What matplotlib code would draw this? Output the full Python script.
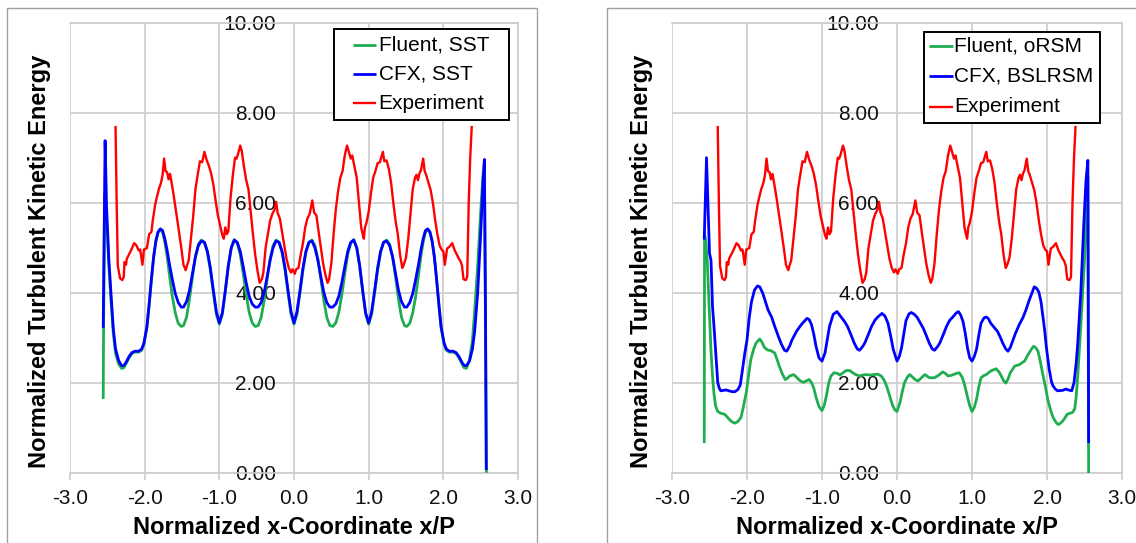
import matplotlib
matplotlib.use("Agg")
import matplotlib.pyplot as plt
from matplotlib.patches import Rectangle

plt.rcParams['font.family'] = ['Liberation Sans', 'DejaVu Sans']

# experiment (same measured profile in both panels)
exp_pts = [
    (-2.39, 7.68), (-2.375, 6.0), (-2.36, 4.6), (-2.33, 4.32), (-2.30, 4.28), (-2.28, 4.35),
    (-2.27, 4.68), (-2.25, 4.62), (-2.24, 4.75), (-2.21, 4.85), (-2.18, 4.95), (-2.14, 5.10),
    (-2.11, 5.05), (-2.08, 4.94), (-2.06, 4.96), (-2.03, 4.62), (-2.01, 4.96), (-1.97, 4.99),
    (-1.94, 5.30), (-1.91, 5.35), (-1.89, 5.62), (-1.86, 5.95), (-1.84, 6.10), (-1.81, 6.30),
    (-1.78, 6.45), (-1.76, 6.62), (-1.74, 6.98), (-1.72, 6.70), (-1.70, 6.68), (-1.68, 6.52),
    (-1.66, 6.64), (-1.64, 6.45), (-1.61, 6.15), (-1.57, 5.70), (-1.54, 5.35), (-1.51, 5.00),
    (-1.48, 4.62), (-1.45, 4.50), (-1.43, 4.62), (-1.41, 4.72), (-1.38, 5.20), (-1.35, 5.70),
    (-1.32, 6.30), (-1.29, 6.62), (-1.26, 6.92), (-1.23, 6.90), (-1.20, 7.13), (-1.17, 6.95),
    (-1.14, 6.82), (-1.11, 6.65), (-1.08, 6.40), (-1.05, 6.05), (-1.02, 5.72), (-0.99, 5.50),
    (-0.96, 5.28), (-0.94, 5.20), (-0.92, 5.45), (-0.90, 5.30), (-0.88, 5.36), (-0.85, 6.10),
    (-0.82, 6.60), (-0.79, 7.00), (-0.77, 6.98), (-0.75, 7.08), (-0.72, 7.27), (-0.70, 7.15),
    (-0.67, 6.80), (-0.64, 6.50), (-0.61, 6.30), (-0.58, 5.80), (-0.55, 5.30), (-0.52, 4.85),
    (-0.49, 4.50), (-0.46, 4.22), (-0.43, 4.30), (-0.41, 4.45), (-0.38, 5.00), (-0.35, 5.30),
    (-0.32, 5.60), (-0.29, 5.75), (-0.26, 5.85), (-0.24, 6.02), (-0.22, 5.78), (-0.19, 5.65),
    (-0.16, 5.35), (-0.13, 5.05), (-0.10, 4.75), (-0.07, 4.55), (-0.04, 4.45), (-0.02, 4.52),
    (0.01, 4.42), (0.03, 4.52), (0.06, 4.55), (0.09, 4.85), (0.12, 5.10), (0.15, 5.45),
    (0.18, 5.65), (0.21, 5.75), (0.245, 6.05), (0.27, 5.78), (0.30, 5.72), (0.33, 5.35),
    (0.36, 5.00), (0.39, 4.65), (0.42, 4.40), (0.45, 4.22), (0.47, 4.30), (0.50, 4.65),
    (0.53, 5.30), (0.56, 5.85), (0.59, 6.25), (0.62, 6.55), (0.65, 6.70), (0.68, 7.05),
    (0.71, 7.27), (0.74, 7.10), (0.76, 6.98), (0.78, 7.05), (0.81, 6.80), (0.84, 6.55),
    (0.87, 6.00), (0.90, 5.45), (0.92, 5.30), (0.935, 5.20), (0.95, 5.45), (0.97, 5.55),
    (1.00, 5.80), (1.03, 6.20), (1.06, 6.55), (1.09, 6.70), (1.12, 6.88), (1.15, 6.90),
    (1.19, 7.13), (1.21, 6.92), (1.24, 6.94), (1.27, 6.75), (1.30, 6.45), (1.33, 6.00),
    (1.36, 5.60), (1.39, 5.30), (1.42, 4.85), (1.45, 4.55), (1.47, 4.62), (1.50, 4.78),
    (1.53, 5.20), (1.56, 5.75), (1.59, 6.30), (1.62, 6.55), (1.64, 6.62), (1.66, 6.50),
    (1.68, 6.65), (1.70, 6.72), (1.73, 6.98), (1.75, 6.70), (1.77, 6.62), (1.80, 6.45),
    (1.83, 6.28), (1.86, 6.00), (1.89, 5.62), (1.92, 5.30), (1.95, 5.05), (1.98, 4.95),
    (2.00, 4.92), (2.02, 4.62), (2.05, 4.98), (2.08, 5.02), (2.12, 5.10), (2.15, 4.95),
    (2.18, 4.85), (2.21, 4.75), (2.23, 4.70), (2.25, 4.60), (2.27, 4.30), (2.30, 4.28),
    (2.32, 4.35), (2.34, 6.00), (2.36, 7.00), (2.38, 7.68),
]

# left panel: SST
cfx_sst_pts = [
    (-2.555, 3.25), (-2.53, 7.38), (-2.51, 5.90), (-2.48, 4.75), (-2.45, 3.95), (-2.42, 3.20),
    (-2.39, 2.75), (-2.35, 2.50), (-2.31, 2.38), (-2.28, 2.38), (-2.25, 2.45), (-2.21, 2.58),
    (-2.17, 2.67), (-2.13, 2.70), (-2.08, 2.70), (-2.04, 2.75), (-2.01, 2.88), (-1.97, 3.25),
    (-1.94, 3.75), (-1.91, 4.30), (-1.88, 4.80), (-1.85, 5.15), (-1.82, 5.35), (-1.79, 5.42),
    (-1.76, 5.38), (-1.73, 5.20), (-1.70, 4.95), (-1.67, 4.65), (-1.63, 4.30), (-1.59, 3.98),
    (-1.55, 3.78), (-1.51, 3.68), (-1.48, 3.68), (-1.44, 3.80), (-1.40, 4.05), (-1.36, 4.42),
    (-1.32, 4.80), (-1.28, 5.05), (-1.24, 5.15), (-1.20, 5.12), (-1.16, 4.92), (-1.12, 4.55),
    (-1.08, 4.05), (-1.04, 3.58), (-1.00, 3.33), (-0.96, 3.55), (-0.92, 4.05), (-0.88, 4.60),
    (-0.84, 5.00), (-0.80, 5.17), (-0.76, 5.12), (-0.72, 4.92), (-0.68, 4.58), (-0.64, 4.22),
    (-0.60, 3.92), (-0.56, 3.75), (-0.52, 3.68), (-0.48, 3.68), (-0.44, 3.78), (-0.40, 4.00),
    (-0.36, 4.35), (-0.32, 4.72), (-0.28, 5.00), (-0.24, 5.15), (-0.20, 5.12), (-0.16, 4.92),
    (-0.12, 4.55), (-0.08, 4.05), (-0.04, 3.58), (0.00, 3.33), (0.04, 3.58), (0.08, 4.05),
    (0.12, 4.55), (0.16, 4.92), (0.20, 5.12), (0.24, 5.15), (0.28, 5.00), (0.32, 4.72),
    (0.36, 4.35), (0.40, 4.00), (0.44, 3.78), (0.48, 3.68), (0.52, 3.68), (0.56, 3.75),
    (0.60, 3.92), (0.64, 4.22), (0.68, 4.58), (0.72, 4.92), (0.76, 5.12), (0.80, 5.17),
    (0.84, 5.00), (0.88, 4.60), (0.92, 4.05), (0.96, 3.55), (1.00, 3.33), (1.04, 3.58),
    (1.08, 4.05), (1.12, 4.55), (1.16, 4.92), (1.20, 5.12), (1.24, 5.15), (1.28, 5.05),
    (1.32, 4.80), (1.36, 4.42), (1.40, 4.05), (1.44, 3.80), (1.48, 3.68), (1.51, 3.68),
    (1.55, 3.78), (1.59, 3.98), (1.63, 4.30), (1.67, 4.65), (1.70, 4.95), (1.73, 5.20),
    (1.76, 5.38), (1.79, 5.42), (1.82, 5.35), (1.85, 5.15), (1.88, 4.80), (1.91, 4.30),
    (1.94, 3.75), (1.97, 3.25), (2.01, 2.88), (2.04, 2.75), (2.08, 2.70), (2.13, 2.70),
    (2.17, 2.67), (2.21, 2.58), (2.25, 2.45), (2.28, 2.38), (2.31, 2.38), (2.35, 2.48),
    (2.39, 2.75), (2.42, 3.15), (2.46, 4.00), (2.50, 5.30), (2.53, 6.40), (2.55, 6.96),
    (2.565, 3.50), (2.575, 0.09),
]

fluent_sst_pts = [
    (-2.555, 1.67), (-2.55, 3.30), (-2.535, 6.20), (-2.51, 5.60), (-2.48, 4.60), (-2.45, 3.80),
    (-2.42, 3.10), (-2.39, 2.65), (-2.35, 2.42), (-2.31, 2.32), (-2.28, 2.33), (-2.25, 2.42),
    (-2.21, 2.55), (-2.17, 2.65), (-2.13, 2.68), (-2.08, 2.68), (-2.04, 2.72), (-2.01, 2.85),
    (-1.97, 3.22), (-1.94, 3.72), (-1.91, 4.28), (-1.88, 4.78), (-1.85, 5.14), (-1.82, 5.35),
    (-1.79, 5.40), (-1.76, 5.34), (-1.73, 5.12), (-1.70, 4.82), (-1.67, 4.42), (-1.63, 3.92),
    (-1.59, 3.55), (-1.55, 3.32), (-1.51, 3.25), (-1.48, 3.27), (-1.44, 3.45), (-1.40, 3.85),
    (-1.36, 4.35), (-1.32, 4.80), (-1.28, 5.08), (-1.24, 5.17), (-1.20, 5.12), (-1.16, 4.90),
    (-1.12, 4.50), (-1.08, 4.00), (-1.04, 3.52), (-1.00, 3.30), (-0.96, 3.52), (-0.92, 4.02),
    (-0.88, 4.58), (-0.84, 5.00), (-0.80, 5.18), (-0.76, 5.10), (-0.72, 4.85), (-0.68, 4.42),
    (-0.64, 3.95), (-0.60, 3.56), (-0.56, 3.33), (-0.52, 3.25), (-0.48, 3.27), (-0.44, 3.45),
    (-0.40, 3.82), (-0.36, 4.30), (-0.32, 4.75), (-0.28, 5.05), (-0.24, 5.17), (-0.20, 5.12),
    (-0.16, 4.90), (-0.12, 4.50), (-0.08, 4.00), (-0.04, 3.52), (0.00, 3.30), (0.04, 3.52),
    (0.08, 4.00), (0.12, 4.50), (0.16, 4.90), (0.20, 5.12), (0.24, 5.17), (0.28, 5.05),
    (0.32, 4.75), (0.36, 4.30), (0.40, 3.82), (0.44, 3.45), (0.48, 3.27), (0.52, 3.25),
    (0.56, 3.33), (0.60, 3.56), (0.64, 3.95), (0.68, 4.42), (0.72, 4.85), (0.76, 5.10),
    (0.80, 5.18), (0.84, 5.00), (0.88, 4.58), (0.92, 4.02), (0.96, 3.52), (1.00, 3.30),
    (1.04, 3.52), (1.08, 4.00), (1.12, 4.50), (1.16, 4.90), (1.20, 5.12), (1.24, 5.17),
    (1.28, 5.08), (1.32, 4.80), (1.36, 4.35), (1.40, 3.85), (1.44, 3.45), (1.48, 3.27),
    (1.51, 3.25), (1.55, 3.32), (1.59, 3.55), (1.63, 3.92), (1.67, 4.42), (1.70, 4.82),
    (1.73, 5.12), (1.76, 5.34), (1.79, 5.40), (1.82, 5.35), (1.85, 5.14), (1.88, 4.78),
    (1.91, 4.28), (1.94, 3.72), (1.97, 3.22), (2.01, 2.85), (2.04, 2.72), (2.08, 2.68),
    (2.13, 2.68), (2.17, 2.65), (2.21, 2.55), (2.25, 2.42), (2.28, 2.33), (2.31, 2.32),
    (2.35, 2.50), (2.39, 2.95), (2.42, 3.60), (2.46, 4.60), (2.50, 5.80), (2.53, 6.60),
    (2.55, 6.90), (2.577, 0.03),
]

# right panel: RSM
cfx_bslrsm_pts = [
    (-2.57, 5.21), (-2.54, 7.00), (-2.52, 5.90), (-2.50, 4.88), (-2.48, 4.72), (-2.46, 3.70),
    (-2.44, 3.25), (-2.41, 2.50), (-2.39, 2.00), (-2.37, 1.88), (-2.35, 1.82), (-2.31, 1.83),
    (-2.28, 1.84), (-2.24, 1.82), (-2.20, 1.80), (-2.16, 1.80), (-2.12, 1.85), (-2.09, 1.95),
    (-2.06, 2.29), (-2.03, 2.65), (-2.00, 2.95), (-1.97, 3.45), (-1.94, 3.80), (-1.90, 4.06),
    (-1.86, 4.15), (-1.83, 4.13), (-1.79, 3.99), (-1.75, 3.78), (-1.72, 3.62), (-1.67, 3.45),
    (-1.63, 3.25), (-1.58, 3.02), (-1.54, 2.85), (-1.50, 2.72), (-1.47, 2.70), (-1.43, 2.82),
    (-1.40, 2.95), (-1.34, 3.14), (-1.29, 3.26), (-1.25, 3.34), (-1.20, 3.43), (-1.17, 3.40),
    (-1.14, 3.29), (-1.11, 3.08), (-1.08, 2.81), (-1.04, 2.55), (-1.00, 2.48), (-0.96, 2.66),
    (-0.93, 2.95), (-0.90, 3.25), (-0.85, 3.52), (-0.80, 3.58), (-0.75, 3.47), (-0.70, 3.36),
    (-0.66, 3.25), (-0.61, 3.05), (-0.57, 2.88), (-0.53, 2.75), (-0.50, 2.72), (-0.46, 2.80),
    (-0.43, 2.88), (-0.38, 3.08), (-0.34, 3.25), (-0.29, 3.40), (-0.25, 3.47), (-0.20, 3.54),
    (-0.16, 3.48), (-0.12, 3.32), (-0.08, 3.00), (-0.05, 2.74), (0.00, 2.48), (0.03, 2.58),
    (0.06, 2.77), (0.09, 3.08), (0.12, 3.38), (0.16, 3.53), (0.19, 3.56), (0.23, 3.52),
    (0.27, 3.45), (0.31, 3.33), (0.35, 3.21), (0.39, 3.05), (0.43, 2.88), (0.47, 2.75),
    (0.50, 2.72), (0.54, 2.80), (0.57, 2.88), (0.62, 3.08), (0.66, 3.25), (0.70, 3.38),
    (0.75, 3.47), (0.79, 3.55), (0.82, 3.58), (0.85, 3.50), (0.88, 3.36), (0.91, 3.10),
    (0.94, 2.77), (0.97, 2.55), (1.00, 2.48), (1.03, 2.58), (1.06, 2.74), (1.09, 3.05),
    (1.12, 3.32), (1.16, 3.44), (1.19, 3.46), (1.22, 3.42), (1.25, 3.32), (1.30, 3.22),
    (1.34, 3.14), (1.38, 3.00), (1.41, 2.88), (1.45, 2.75), (1.48, 2.70), (1.51, 2.78),
    (1.54, 2.92), (1.58, 3.10), (1.63, 3.29), (1.68, 3.45), (1.72, 3.62), (1.76, 3.82),
    (1.79, 3.95), (1.83, 4.13), (1.86, 4.10), (1.89, 4.02), (1.92, 3.80), (1.94, 3.54),
    (1.97, 3.15), (1.99, 2.81), (2.03, 2.29), (2.06, 2.02), (2.08, 1.93), (2.11, 1.86),
    (2.14, 1.82), (2.21, 1.83), (2.25, 1.86), (2.28, 1.84), (2.33, 1.82), (2.36, 2.00),
    (2.39, 2.45), (2.41, 2.88), (2.45, 3.99), (2.49, 5.50), (2.52, 6.50), (2.545, 6.94),
    (2.555, 0.69),
]

fluent_orsm_pts = [
    (-2.57, 0.69), (-2.566, 5.30), (-2.55, 5.15), (-2.53, 4.72), (-2.50, 3.50), (-2.48, 2.70),
    (-2.46, 2.15), (-2.44, 1.75), (-2.42, 1.49), (-2.39, 1.36), (-2.35, 1.32), (-2.30, 1.30),
    (-2.27, 1.25), (-2.24, 1.19), (-2.20, 1.13), (-2.16, 1.10), (-2.12, 1.14), (-2.08, 1.23),
    (-2.05, 1.45), (-2.01, 1.78), (-1.98, 2.15), (-1.95, 2.51), (-1.91, 2.75), (-1.88, 2.88),
    (-1.83, 2.97), (-1.80, 2.90), (-1.77, 2.79), (-1.73, 2.73), (-1.68, 2.71), (-1.63, 2.66),
    (-1.60, 2.52), (-1.57, 2.37), (-1.53, 2.20), (-1.49, 2.07), (-1.46, 2.10), (-1.43, 2.15),
    (-1.38, 2.18), (-1.35, 2.14), (-1.31, 2.07), (-1.27, 2.02), (-1.24, 2.01), (-1.20, 2.05),
    (-1.17, 2.07), (-1.14, 2.00), (-1.11, 1.88), (-1.08, 1.68), (-1.04, 1.47), (-1.00, 1.38),
    (-0.97, 1.50), (-0.94, 1.72), (-0.91, 2.00), (-0.88, 2.15), (-0.84, 2.22), (-0.80, 2.21),
    (-0.76, 2.17), (-0.72, 2.22), (-0.68, 2.27), (-0.63, 2.27), (-0.59, 2.22), (-0.55, 2.18),
    (-0.50, 2.15), (-0.46, 2.17), (-0.41, 2.18), (-0.36, 2.17), (-0.31, 2.18), (-0.26, 2.19),
    (-0.21, 2.15), (-0.17, 2.05), (-0.14, 1.93), (-0.10, 1.72), (-0.06, 1.50), (-0.03, 1.40),
    (0.00, 1.36), (0.04, 1.56), (0.07, 1.80), (0.10, 2.00), (0.14, 2.13), (0.17, 2.18),
    (0.21, 2.12), (0.24, 2.07), (0.28, 2.04), (0.32, 2.10), (0.37, 2.18), (0.40, 2.15),
    (0.43, 2.11), (0.50, 2.11), (0.55, 2.16), (0.61, 2.24), (0.65, 2.20), (0.68, 2.15),
    (0.72, 2.16), (0.75, 2.18), (0.80, 2.21), (0.83, 2.22), (0.87, 2.12), (0.90, 1.96),
    (0.94, 1.68), (0.97, 1.49), (1.00, 1.36), (1.03, 1.45), (1.06, 1.63), (1.09, 1.90),
    (1.12, 2.11), (1.16, 2.16), (1.19, 2.18), (1.25, 2.26), (1.32, 2.31), (1.36, 2.24),
    (1.39, 2.15), (1.42, 2.05), (1.45, 1.99), (1.48, 2.08), (1.51, 2.22), (1.57, 2.37),
    (1.63, 2.40), (1.70, 2.48), (1.76, 2.66), (1.82, 2.81), (1.85, 2.78), (1.88, 2.70),
    (1.91, 2.48), (1.94, 2.22), (1.98, 1.90), (2.01, 1.63), (2.05, 1.38), (2.08, 1.23),
    (2.12, 1.12), (2.15, 1.07), (2.18, 1.10), (2.21, 1.15), (2.24, 1.22), (2.27, 1.30),
    (2.34, 1.34), (2.37, 1.42), (2.39, 1.70), (2.41, 2.15), (2.45, 3.25), (2.50, 4.72),
    (2.53, 6.00), (2.545, 6.60), (2.555, 0.00),
]

x_ticks = [-3, -2, -1, 0, 1, 2, 3]
y_ticks = [0, 2, 4, 6, 8, 10]
left_labels = ['Fluent, SST', 'CFX, SST', 'Experiment']
right_labels = ['Fluent, oRSM', 'CFX, BSLRSM', 'Experiment']

GREEN = '#1fae4f'
BLUE = '#0000ff'
RED = '#ff0000'
GRID = '#cccccc'


def xy(pts):
    return [p[0] for p in pts], [p[1] for p in pts]


def style_axes(ax):
    ax.set_xlim(-3, 3)
    ax.set_ylim(0, 10)
    ax.set_xticks(x_ticks)
    ax.set_xticklabels(['%.1f' % v for v in x_ticks])
    ax.set_yticks(y_ticks)
    ax.set_yticklabels(['%.2f' % v for v in y_ticks])
    ax.grid(True, color=GRID, linewidth=1.2, zorder=0)
    ax.set_axisbelow(True)
    for s in ['top', 'right', 'bottom']:
        ax.spines[s].set_color(GRID)
        ax.spines[s].set_linewidth(1.2)
    ax.spines['left'].set_position(('data', 0))
    ax.spines['left'].set_color('none')
    ax.tick_params(axis='y', length=0, pad=13, labelsize=15, labelcolor='#111111')
    ax.tick_params(axis='x', length=5, width=1.2, color=GRID, direction='out',
                   pad=7, labelsize=15, labelcolor='#111111')
    ax.set_xlabel('Normalized x-Coordinate x/P', fontsize=17, fontweight='bold',
                  va='center')
    ax.set_ylabel('Normalized Turbulent Kinetic Energy', fontsize=17, fontweight='bold')
    ax.xaxis.set_label_coords(0.5, -0.1215)
    ax.yaxis.set_label_coords(-0.043, 0.47)


def draw_legend(ax, lines, labels, box, rows, hx, tx):
    # frame drawn by hand: the Excel legend has wide side padding
    x0, y0, x1, y1 = box
    ax.add_patch(Rectangle((x0, y0), x1 - x0, y1 - y0, transform=ax.transAxes,
                           facecolor='white', edgecolor='black', linewidth=1.4,
                           zorder=10, clip_on=False))
    for line, label, ry in zip(lines, labels, rows):
        ax.plot(hx, [ry, ry], transform=ax.transAxes, color=line.get_color(),
                lw=line.get_linewidth(), zorder=11, clip_on=False,
                solid_capstyle='butt')
        ax.text(tx, ry, label, transform=ax.transAxes, fontsize=15, va='center',
                ha='left', zorder=12)


fig = plt.figure(figsize=(11.36, 5.43), dpi=100)

# chart area borders
fig.add_artist(Rectangle((7 / 1136, -0.02), 530 / 1136, 1 - 8.3 / 543 + 0.02,
                         transform=fig.transFigure, fill=False,
                         edgecolor='#a0a0a0', linewidth=1))
fig.add_artist(Rectangle((607 / 1136, -0.02), 0.5, 1 - 8.3 / 543 + 0.02,
                         transform=fig.transFigure, fill=False,
                         edgecolor='#a0a0a0', linewidth=1))

bottom = (543 - 472.7) / 543
height = 450 / 543
ax1 = fig.add_axes([70 / 1136, bottom, 448 / 1136, height])
ax2 = fig.add_axes([672 / 1136, bottom, 450 / 1136, height])

x, y = xy(fluent_sst_pts)
g1, = ax1.plot(x, y, color=GREEN, lw=2.0, zorder=3)
x, y = xy(cfx_sst_pts)
b1, = ax1.plot(x, y, color=BLUE, lw=2.0, zorder=4)
x, y = xy(exp_pts)
r1, = ax1.plot(x, y, color=RED, lw=1.7, zorder=5)
style_axes(ax1)
draw_legend(ax1, [g1, b1, r1], left_labels, (0.590, 0.784, 0.979, 0.986),
            [0.9515, 0.886, 0.8215], [0.632, 0.684], 0.689)

x, y = xy(fluent_orsm_pts)
g2, = ax2.plot(x, y, color=GREEN, lw=2.0, zorder=3)
x, y = xy(cfx_bslrsm_pts)
b2, = ax2.plot(x, y, color=BLUE, lw=2.0, zorder=4)
x, y = xy(exp_pts)
r2, = ax2.plot(x, y, color=RED, lw=1.7, zorder=5)
style_axes(ax2)
draw_legend(ax2, [g2, b2, r2], right_labels, (0.561, 0.778, 0.951, 0.980),
            [0.948, 0.881, 0.813], [0.571, 0.624], 0.627)

fig.savefig('out.png', dpi=100)
